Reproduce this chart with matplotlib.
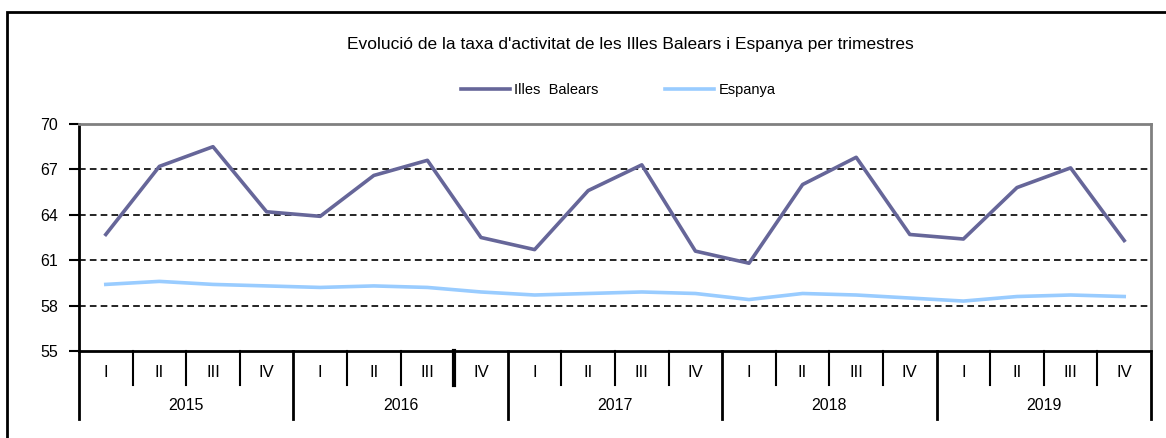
import matplotlib
matplotlib.use("Agg")
import matplotlib.pyplot as plt
import matplotlib.transforms as mtransforms
from matplotlib.patches import Rectangle

plt.rcParams['font.family'] = ['Liberation Sans', 'DejaVu Sans']

# Dades (taxa d'activitat, %)
anys = ['2015', '2016', '2017', '2018', '2019']
trimestres = ['I', 'II', 'III', 'IV']
balears = [62.7, 67.2, 68.5, 64.2,
           63.9, 66.6, 67.6, 62.5,
           61.7, 65.6, 67.3, 61.6,
           60.8, 66.0, 67.8, 62.7,
           62.4, 65.8, 67.1, 62.3]
espanya = [59.4, 59.6, 59.4, 59.3,
           59.2, 59.3, 59.2, 58.9,
           58.7, 58.8, 58.9, 58.8,
           58.4, 58.8, 58.7, 58.5,
           58.3, 58.6, 58.7, 58.6]
yticks = [55, 58, 61, 64, 67, 70]

fig = plt.figure(figsize=(11.66, 4.38), dpi=100)
ax = fig.add_axes([79/1166, 87/438, 1072/1166, 227/438])

# marc exterior
fig.patches.append(Rectangle((7/1166, -0.1), 1.2, 1 - 12/438 + 0.1, transform=fig.transFigure,
                             fill=False, edgecolor='black', linewidth=2))

n = len(balears)
x = [i + 0.5 for i in range(n)]

for y in yticks[1:-1]:
    ax.axhline(y, color='black', linestyle=(0, (4, 2.5)), linewidth=1.2, zorder=1)

l_esp, = ax.plot(x, espanya, color='#99ccff', linewidth=2.6, label='Espanya', zorder=3)
l_bal, = ax.plot(x, balears, color='#666699', linewidth=2.6, label='Illes  Balears', zorder=4)

ax.set_xlim(0, n)
ax.set_ylim(55, 70)
ax.set_yticks(yticks)
ax.set_yticklabels([str(v) for v in yticks], fontsize=11.5)
ax.tick_params(axis='y', length=7, width=1.5, direction='out', pad=8)
ax.set_xticks([])

for side in ['top', 'right']:
    ax.spines[side].set_color('#808080')
    ax.spines[side].set_linewidth(2)
ax.spines['left'].set_linewidth(2)
ax.spines['bottom'].set_linewidth(2)

# eix de categories en dos nivells
trans = mtransforms.blended_transform_factory(ax.transData, ax.transAxes)
for i in range(n + 1):
    if i % 4 == 0:
        ax.plot([i, i], [0, -0.30], color='black', linewidth=2, transform=trans, clip_on=False)
    else:
        lw = 3 if i == 7 else 1.5
        ax.plot([i, i], [0, -0.15], color='black', linewidth=lw, transform=trans, clip_on=False)
for i in range(n):
    ax.text(i + 0.5, -0.093, trimestres[i % 4], transform=trans, ha='center', va='center', fontsize=12)
for j, a in enumerate(anys):
    ax.text(j * 4 + 2, -0.238, a, transform=trans, ha='center', va='center', fontsize=11.5)

fig.text(630/1166, 1 - 45/438, "Evolució de la taxa d'activitat de les Illes Balears i Espanya per trimestres",
         ha='center', va='center', fontsize=12.5)

# llegenda
fig.legend(handles=[l_bal, l_esp], loc='center', bbox_to_anchor=(618/1166, 1 - 90/438),
           ncol=2, frameon=False, fontsize=10.5, handlelength=3.4, columnspacing=4.5, handletextpad=0.3)

fig.savefig('out.png', dpi=100)
